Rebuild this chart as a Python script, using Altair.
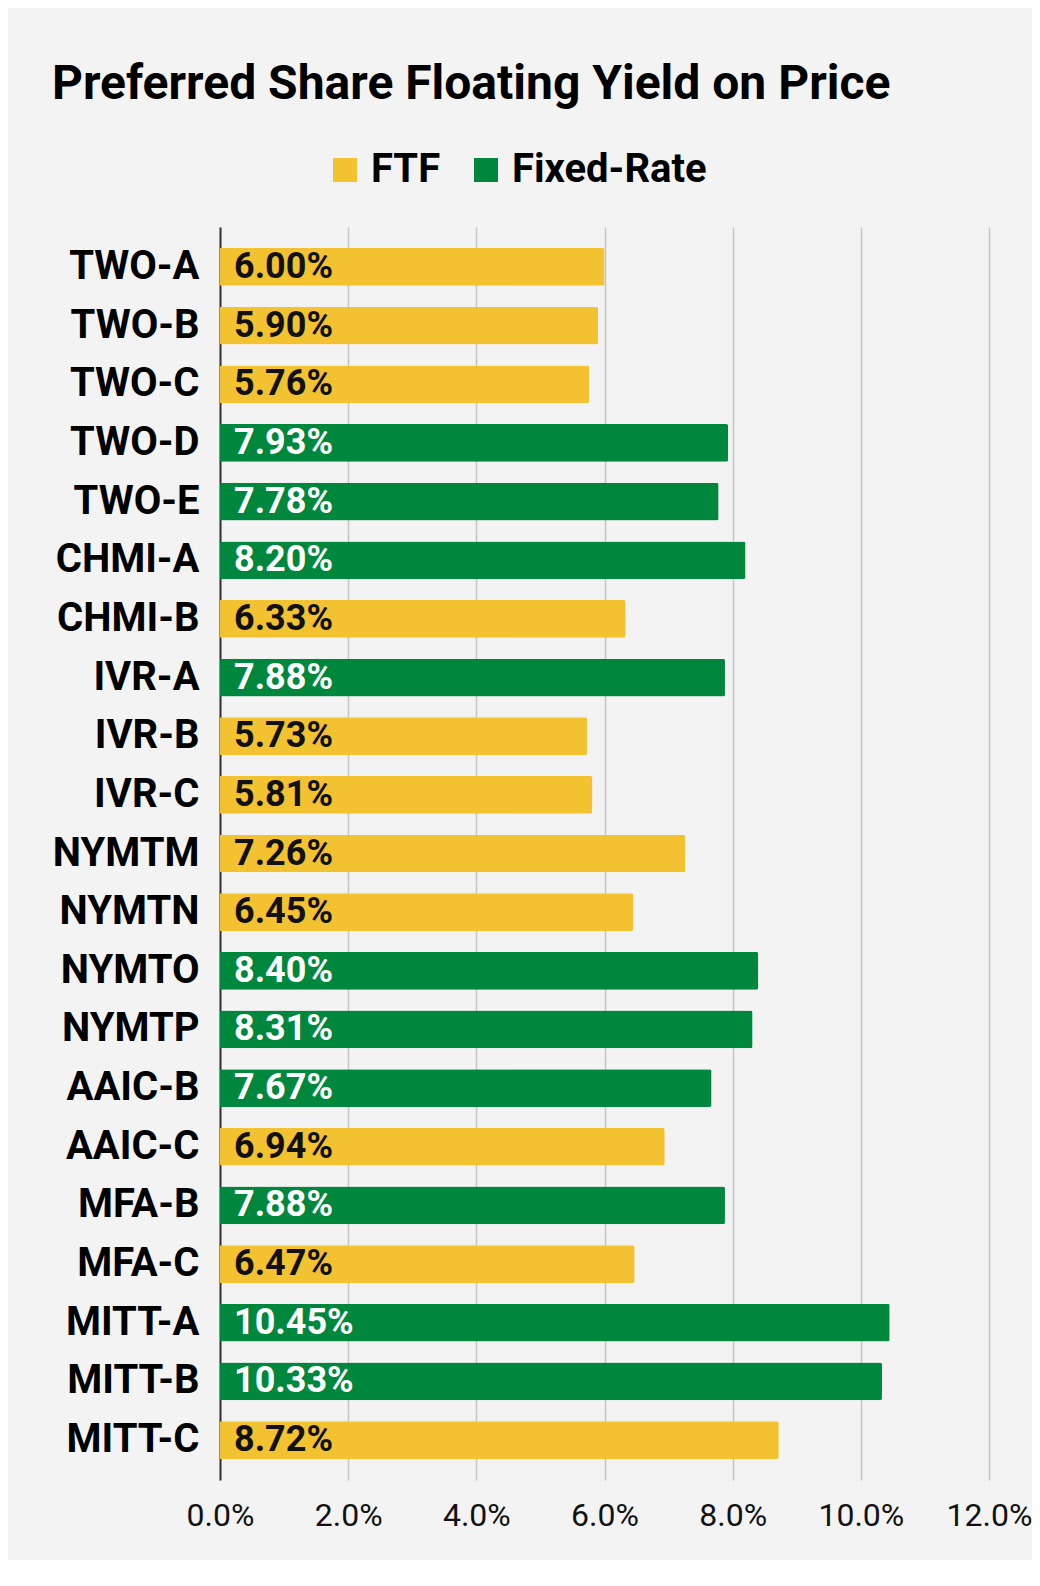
import altair as alt
import pandas as pd

tickers = ["TWO-A", "TWO-B", "TWO-C", "TWO-D", "TWO-E", "CHMI-A", "CHMI-B",
           "IVR-A", "IVR-B", "IVR-C", "NYMTM", "NYMTN", "NYMTO", "NYMTP",
           "AAIC-B", "AAIC-C", "MFA-B", "MFA-C", "MITT-A", "MITT-B", "MITT-C"]
yields = [6.00, 5.90, 5.76, 7.93, 7.78, 8.20, 6.33, 7.88, 5.73, 5.81, 7.26,
          6.45, 8.40, 8.31, 7.67, 6.94, 7.88, 6.47, 10.45, 10.33, 8.72]
types = ["FTF", "FTF", "FTF", "Fixed-Rate", "Fixed-Rate", "Fixed-Rate", "FTF",
         "Fixed-Rate", "FTF", "FTF", "FTF", "FTF", "Fixed-Rate", "Fixed-Rate",
         "Fixed-Rate", "FTF", "Fixed-Rate", "FTF", "Fixed-Rate", "Fixed-Rate", "FTF"]
type_order = ["FTF", "Fixed-Rate"]
x_ticks = [0, 2, 4, 6, 8, 10, 12]

YELLOW = "#f2c231"
GREEN = "#00873e"

df = pd.DataFrame({
    "ticker": tickers,
    "yield": yields,
    "type": types,
    "label": [f"{v:.2f}%" for v in yields],
})

base = alt.Chart(df)

bars = base.mark_bar(cornerRadiusEnd=2).encode(
    x=alt.X("yield:Q",
            scale=alt.Scale(domain=[0, 12], nice=False, zero=True),
            axis=alt.Axis(values=x_ticks,
                          labelExpr="format(datum.value, '.1f') + '%'",
                          title=None, domain=False, ticks=False, grid=True,
                          gridColor="#c4c4c4", gridWidth=1.5,
                          labelFlush=False,
                          labelFont="Roboto", labelFontSize=32,
                          labelColor="#111111", labelPadding=20)),
    y=alt.Y("ticker:N", sort=tickers,
            scale=alt.Scale(paddingInner=0.357, paddingOuter=0.36),
            axis=alt.Axis(title=None, ticks=False, domain=True,
                          domainColor="#333333", domainWidth=2,
                          labelFont="Roboto", labelFontWeight="bold",
                          labelFontSize=40, labelColor="#000000",
                          labelPadding=21, labelLimit=300)),
    color=alt.Color("type:N",
                    scale=alt.Scale(domain=type_order, range=[YELLOW, GREEN]),
                    legend=alt.Legend(title=None, orient="none",
                                      legendX=105, legendY=-77,
                                      direction="horizontal",
                                      symbolType="square", symbolSize=576,
                                      symbolStrokeWidth=0,
                                      labelFont="Roboto", labelFontWeight="bold",
                                      labelFontSize=40, labelColor="#000000",
                                      labelOffset=6, columnPadding=25,
                                      labelLimit=400, padding=0)),
)

text = base.mark_text(align="left", baseline="middle", dx=14,
                      font="Roboto", fontWeight="bold", fontSize=36).encode(
    x=alt.datum(0),
    y=alt.Y("ticker:N", sort=tickers),
    text="label:N",
    color=alt.condition(alt.datum.type == "FTF", alt.value("#111111"), alt.value("#ffffff")),
)

chart = (bars + text).properties(
    width=769,
    height=1253,
    autosize="none",
    padding={"left": 212, "top": 219, "right": 43, "bottom": 80},
    title=alt.TitleParams("Preferred Share Floating Yield on Price",
                          anchor="start", frame="group", dx=-168,
                          font="Roboto", fontSize=48, fontWeight="bold",
                          color="#000000", baseline="alphabetic", offset=3),
).configure(background="#f3f3f3").configure_view(stroke=None)

chart.save("out.html", embed_options={"renderer": "svg", "actions": False})
